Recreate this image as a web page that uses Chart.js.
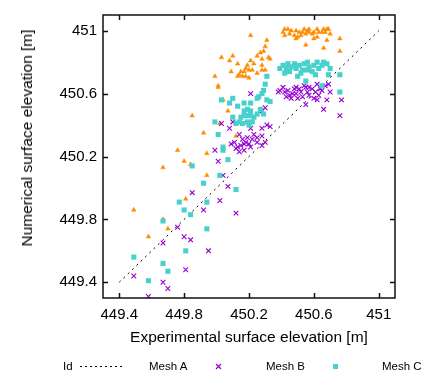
<!DOCTYPE html>
<html><head><meta charset="utf-8">
<script src="https://cdn.jsdelivr.net/npm/chart.js@4/dist/chart.umd.min.js"></script>
<style>
html,body{margin:0;padding:0;background:#fff;overflow:hidden;}
#wrap{position:relative;width:422px;height:377px;overflow:hidden;}
canvas{position:absolute;left:0;top:0;}
.lg{position:absolute;font-family:"Liberation Sans",Arial,sans-serif;font-size:11.5px;color:#000;line-height:14px;white-space:nowrap;}
#ytitle{position:absolute;left:27px;top:138px;width:0;height:0;}
#ytitle span{position:absolute;left:0;top:0;transform:translate(-50%,-50%) rotate(-90deg);font-family:"Liberation Sans",Arial,sans-serif;font-size:15.5px;line-height:18px;white-space:nowrap;color:#000;}
</style></head><body>
<div id="wrap"><canvas id="c" width="422" height="377"></canvas>
<div id="ytitle"><span>Numerical surface elevation [m]</span></div>
<div class="lg" style="left:63px;top:359px">Id</div>
<svg class="lg" style="left:80px;top:359px" width="44" height="14"><line x1="0" y1="7.5" x2="44" y2="7.5" stroke="#000" stroke-width="1" stroke-dasharray="2,3"/></svg>
<div class="lg" style="left:149px;top:359px">Mesh A</div>
<svg class="lg" style="left:215px;top:359px" width="7" height="14"><path d="M1,5 L6,10 M6,5 L1,10" stroke="#9400d3" stroke-width="1.2"/></svg>
<div class="lg" style="left:266px;top:359px">Mesh B</div>
<svg class="lg" style="left:332px;top:359px" width="7" height="14"><rect x="1" y="5" width="5" height="5" fill="#48d1cc"/></svg>
<div class="lg" style="left:382px;top:359px">Mesh C</div>
</div>
<script>
const xTicks = [449.4, 449.8, 450.2, 450.6, 451.0];
const yTicks = [449.4, 449.8, 450.2, 450.6, 451.0];
const idLine = [[449.4, 449.4], [451.0, 451.0]];

const meshA = [
[450.41,450.99],[450.42,450.97],[450.45,450.98],[450.46,451.00],[450.48,450.97],[450.49,450.95],[450.49,451.00],[450.51,450.99],[450.52,450.97],[450.53,450.99],[450.55,450.98],[450.56,451.00],[450.57,450.99],[450.57,451.01],[450.60,450.99],[450.60,450.95],[450.62,450.96],[450.63,450.99],[450.65,450.99],[450.66,451.01],[450.67,450.99],[450.68,451.01],[450.69,451.01],[450.70,450.98],[450.68,450.94],[450.55,450.91],[450.66,450.89],[450.76,450.95],[450.76,450.87],[450.44,451.01],[450.50,450.96],[450.54,451.01],[450.59,450.98],[450.62,451.01],[450.42,451.01],
[450.21,450.97],[450.31,450.94],[450.30,450.90],[450.29,450.87],[450.27,450.86],[450.25,450.84],[450.28,450.82],[450.33,450.82],[450.32,450.83],[450.03,450.83],[450.10,450.84],[450.08,450.81],[450.13,450.79],[450.21,450.81],[450.23,450.79],[450.19,450.78],[450.28,450.78],[450.18,450.76],[450.20,450.75],[450.22,450.75],[450.28,450.75],[450.30,450.75],[450.09,450.74],[450.15,450.74],[450.17,450.74],[450.14,450.72],[450.16,450.71],[450.18,450.71],[450.25,450.73],[450.13,450.71],[449.99,450.71],[450.20,450.70],[450.01,450.65],[450.01,450.64],[450.04,450.56],[450.07,450.49],[449.85,450.46],[449.92,450.35],[450.12,450.33],[450.02,450.41],
[449.76,450.24],[449.80,450.17],[449.94,450.22],[449.67,450.13],[449.84,450.15],[449.94,450.08],[449.81,449.93],[449.49,449.86],[449.67,449.80],[449.70,449.74],[449.58,449.69]
];

const meshB = [
[449.92,449.86],[449.76,449.75],[449.80,449.69],[449.84,449.67],[449.67,449.65],[449.95,449.60],[449.81,449.48],[449.49,449.44],[449.67,449.40],[449.70,449.36],[449.58,449.31],[450.09,450.28],[449.99,450.24],[450.01,450.17],[450.04,450.08],[450.07,450.01],[449.85,449.97],[450.02,449.92],[450.12,449.84],
[450.21,450.60],[450.38,450.61],[450.30,450.51],[450.28,450.49],[450.10,450.42],[450.03,450.41],[450.08,450.38],[450.21,450.38],[450.28,450.38],[450.31,450.40],[450.33,450.39],[450.14,450.34],[450.23,450.34],[450.28,450.33],[450.16,450.31],[450.18,450.29],[450.20,450.28],[450.25,450.29],[450.28,450.27],[450.15,450.27],[450.12,450.25],[450.17,450.24],[450.21,450.26],[450.14,450.23],[450.30,450.29],[450.19,450.32],[450.22,450.31],[450.25,450.32],[450.17,450.28],[450.11,450.29],[450.13,450.26],
[450.39,450.62],[450.41,450.64],[450.42,450.61],[450.44,450.62],[450.45,450.59],[450.46,450.57],[450.48,450.63],[450.49,450.60],[450.50,450.57],[450.51,450.63],[450.52,450.61],[450.53,450.58],[450.55,450.64],[450.56,450.61],[450.57,450.59],[450.59,450.63],[450.60,450.57],[450.61,450.61],[450.62,450.66],[450.63,450.59],[450.64,450.63],[450.65,450.62],[450.67,450.65],[450.69,450.66],[450.70,450.61],[450.68,450.56],[450.77,450.56],[450.55,450.53],[450.66,450.50],[450.76,450.46],[450.49,450.64],[450.57,450.64],[450.43,450.58],[450.54,450.65],[450.47,450.60],[450.62,450.56]
];

const meshC = [
[449.77,449.91],[449.80,449.86],[449.84,449.83],[449.67,449.79],[449.94,449.91],[449.94,449.74],[449.81,449.60],[449.49,449.56],[449.67,449.52],[449.70,449.47],[449.58,449.41],[450.04,450.26],[450.04,450.24],[450.07,450.18],[449.85,450.14],[450.02,450.08],[449.92,450.03],[450.12,449.99],[450.01,450.34],[449.99,450.42],
[450.31,450.71],[450.30,450.66],[450.29,450.62],[450.28,450.60],[450.26,450.58],[450.25,450.57],[450.31,450.56],[450.33,450.55],[450.10,450.57],[450.03,450.56],[450.21,450.54],[450.17,450.54],[450.13,450.52],[450.19,450.50],[450.21,450.49],[450.17,450.49],[450.27,450.50],[450.25,450.47],[450.29,450.47],[450.10,450.45],[450.15,450.45],[450.17,450.46],[450.19,450.46],[450.21,450.46],[450.23,450.45],[450.14,450.42],[450.16,450.41],[450.19,450.42],[450.22,450.42],[450.12,450.41],[450.20,450.40],[450.08,450.54],
[450.41,450.78],[450.43,450.76],[450.44,450.79],[450.46,450.77],[450.45,450.74],[450.48,450.79],[450.49,450.76],[450.50,450.71],[450.51,450.78],[450.53,450.75],[450.54,450.79],[450.56,450.80],[450.57,450.77],[450.59,450.74],[450.60,450.78],[450.61,450.72],[450.62,450.80],[450.63,450.76],[450.65,450.78],[450.66,450.80],[450.68,450.79],[450.70,450.76],[450.69,450.72],[450.76,450.72],[450.55,450.68],[450.65,450.65],[450.76,450.61],[450.39,450.76],[450.42,450.73],[450.52,450.73],[450.56,450.75]
];

const toXY = a => a.map(p => ({x: p[0], y: p[1]}));
const fmt = v => String(Math.round(v * 10) / 10);

Chart.defaults.font.family = '"Liberation Sans", Arial, sans-serif';
Chart.defaults.color = '#000';

const framePlugin = {
  id: 'frame',
  afterDatasetsDraw(chart) {
    const {ctx, chartArea: {left, right, top, bottom}, scales: {x, y}} = chart;
    ctx.save();
    ctx.strokeStyle = '#111';
    ctx.lineWidth = 1.5;
    ctx.strokeRect(left, top, right - left, bottom - top);
    ctx.beginPath();
    xTicks.forEach(v => {
      const px = Math.round(x.getPixelForValue(v)) + 0.5;
      ctx.moveTo(px, bottom); ctx.lineTo(px, bottom - 5);
      ctx.moveTo(px, top); ctx.lineTo(px, top + 5);
    });
    yTicks.forEach(v => {
      const py = Math.round(y.getPixelForValue(v)) + 0.5;
      ctx.moveTo(left, py); ctx.lineTo(left + 5, py);
      ctx.moveTo(right, py); ctx.lineTo(right - 5, py);
    });
    ctx.stroke();
    ctx.restore();
  }
};

new Chart(document.getElementById('c'), {
  type: 'scatter',
  data: {
    datasets: [
      {label: 'Id', data: toXY(idLine), showLine: true, borderColor: '#000', borderWidth: 1, borderDash: [2, 4], pointRadius: 0, order: 4},
      {label: 'Mesh A', data: toXY(meshA), pointStyle: 'triangle', pointRadius: 2.6, backgroundColor: '#ff8c00', borderColor: '#ff8c00', borderWidth: 0.5, order: 3},
      {label: 'Mesh B', data: toXY(meshB), pointStyle: 'crossRot', pointRadius: 3.3, backgroundColor: '#9400d3', borderColor: '#9400d3', borderWidth: 1.1, order: 2},
      {label: 'Mesh C', data: toXY(meshC), pointStyle: 'rect', pointRadius: 3.6, backgroundColor: '#48d1cc', borderColor: '#48d1cc', borderWidth: 0, order: 1}
    ]
  },
  options: {
    responsive: false, animation: false, devicePixelRatio: 1,
    layout: {padding: {top: 7, right: 27, left: 0, bottom: 30}},
    plugins: {legend: {display: false}, tooltip: {enabled: false}},
    scales: {
      x: {
        type: 'linear', min: 449.3, max: 451.1,
        grid: {display: false, drawTicks: false}, border: {display: false},
        afterBuildTicks: s => { s.ticks = xTicks.map(v => ({value: v})); },
        afterFit: s => { s.height = 49; },
        ticks: {padding: 8, autoSkip: false, maxRotation: 0, font: {size: 15}, callback: v => fmt(v)},
        title: {display: true, text: 'Experimental surface elevation [m]', font: {size: 15.5}, padding: 0}
      },
      y: {
        type: 'linear', min: 449.3, max: 451.1,
        grid: {display: false, drawTicks: false}, border: {display: false},
        afterBuildTicks: s => { s.ticks = yTicks.map(v => ({value: v})); },
        afterFit: s => { s.width = 103; },
        ticks: {padding: 6, autoSkip: false, font: {size: 15}, callback: v => fmt(v)},
        title: {display: false}
      }
    }
  },
  plugins: [framePlugin]
});
</script>
</body></html>
